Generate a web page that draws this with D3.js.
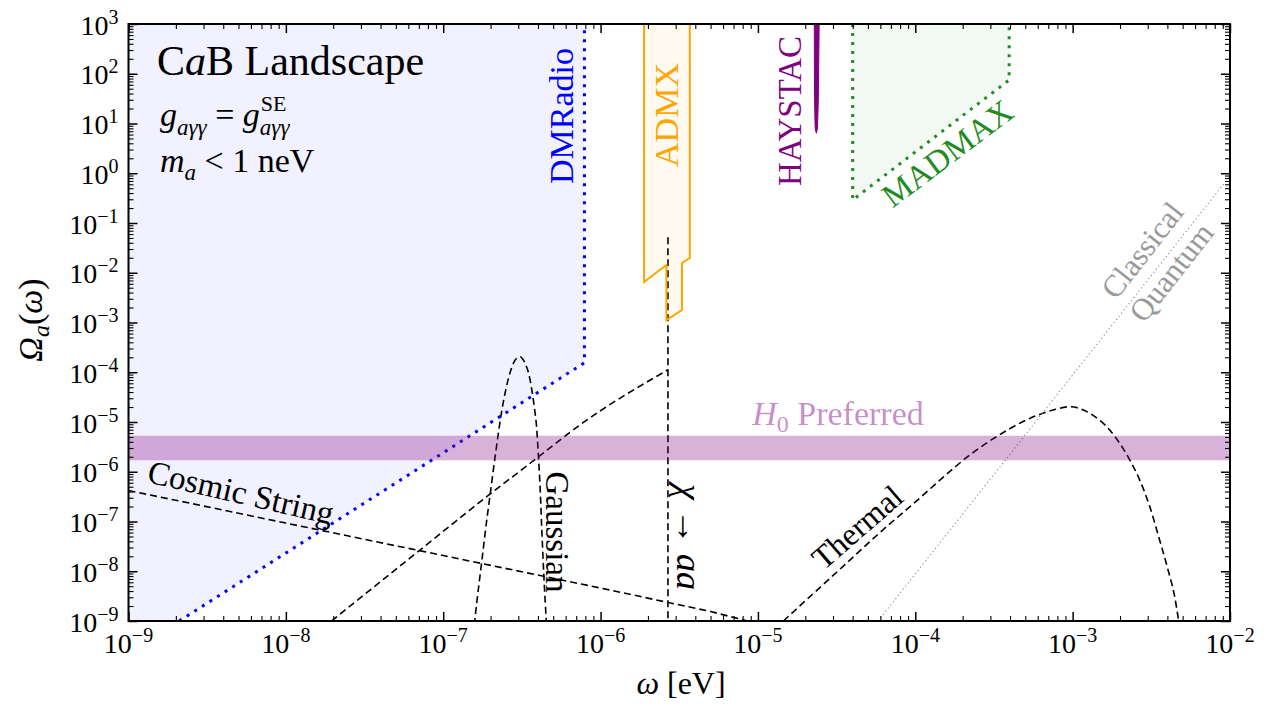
<!DOCTYPE html>
<html><head><meta charset="utf-8">
<script src="https://cdn.jsdelivr.net/npm/d3@7"></script>
<style>
body{margin:0;background:#fff}
svg text{font-family:"Liberation Serif","Times New Roman","DejaVu Serif",serif;fill:#000}
</style>
</head><body>
<svg id="c" width="1266" height="704" font-family="Liberation Serif, DejaVu Serif, serif"></svg>
<script>
// ---------------- data ----------------
const xTickExps = [-9,-8,-7,-6,-5,-4,-3,-2];
const yTickExps = [-9,-8,-7,-6,-5,-4,-3,-2,-1,0,1,2,3];
const xTickLabels = ["−9","−8","−7","−6","−5","−4","−3","−2"];
const yTickLabels = ["−9","−8","−7","−6","−5","−4","−3","−2","−1","0","1","2","3"];

const dmradioRegion = [[1e-9,1e3],[1e-9,1e-9],[2.1e-9,1e-9],[7.9e-7,1.55e-4],[7.9e-7,1e3]];
const dmradioEdge   = [[2.1e-9,1e-9],[7.9e-7,1.55e-4],[7.9e-7,1e3]];
const admxRegion = [[1.89e-6,1e3],[1.89e-6,6.5e-3],[2.62e-6,1.43e-2],[2.62e-6,1.12e-3],[3.29e-6,1.78e-3],[3.29e-6,1.57e-2],[3.69e-6,1.98e-2],[3.69e-6,1e3]];
const haystacRegion = [[2.28e-5,1e3],[2.29e-5,30],[2.31e-5,8],[2.35e-5,6.4],[2.39e-5,8],[2.42e-5,30],[2.45e-5,1e3]];
const madmaxRegion = [[4.0e-5,1e3],[4.0e-5,0.29],[3.95e-4,75],[3.95e-4,1e3]];
const h0Band = [1.7e-6, 5.3e-6];
const classicalQuantum = [[5.8e-5,1e-9],[1e-2,0.88]];

const cosmicString = [[1e-9,4.2e-7],[1e-8,9.3e-8],[1e-7,2.07e-8],[1e-6,4.6e-9],[5e-6,1.55e-9],[8.6e-6,1e-9]];
const gaussian = [[1.55e-7,5e-10],[1.6e-7,1.3e-9],[1.75e-7,1.4e-8],[1.9e-7,1.2e-7],[1.98e-7,3.2e-7],[2.15e-7,2.3e-6],
  [2.35e-7,1.6e-5],[2.5e-7,4.5e-5],[2.65e-7,9.5e-5],[2.8e-7,1.55e-4],[2.95e-7,1.95e-4],[3.07e-7,2.05e-4],
  [3.2e-7,1.85e-4],[3.35e-7,1.4e-4],[3.5e-7,9.2e-5],[3.65e-7,4.6e-5],[3.8e-7,1.9e-5],[3.92e-7,8.0e-6],
  [4.02e-7,2.3e-6],[4.12e-7,5.5e-7],[4.22e-7,8.5e-8],[4.35e-7,9.5e-9],[4.55e-7,7e-10]];
const decayRise = [[1.95e-8,1e-9],[7.11e-8,2.67e-8],[1.89e-7,3.15e-7],[3.92e-7,1.86e-6],[7.38e-7,8.7e-6],[2.68e-6,1.12e-4]];
const decayLine = [[2.68e-6,5.2e-2],[2.68e-6,1e-9]];
const thermal = [[1.45e-5,1e-9],[3.3e-5,1.08e-8],[6.56e-5,7.85e-8],[1.02e-4,2.6e-7],[1.5e-4,7.7e-7],[2.22e-4,2.17e-6],
  [3.28e-4,5.07e-6],[5.09e-4,1.10e-5],[7.51e-4,1.74e-5],[9.6e-4,2.03e-5],[1.284e-3,1.5e-5],[1.72e-3,6.9e-6],
  [1.99e-3,3.73e-6],[2.31e-3,1.72e-6],[2.67e-3,6.8e-7],[3.09e-3,2.0e-7],[3.57e-3,4.25e-8],[4.04e-3,1.06e-8],
  [4.45e-3,3.08e-9],[4.72e-3,1e-9]];

// ---------------- layout ----------------
const L=128.5, R=1230, T=24, B=621;
const FONT = '"Liberation Serif","Times New Roman","DejaVu Serif",serif';
const svg = d3.select("#c");
const x = d3.scaleLog().domain([1e-9,1e-2]).range([L,R]);
const y = d3.scaleLog().domain([1e-9,1e3]).range([B,T]);

svg.append("defs").append("clipPath").attr("id","clip")
  .append("rect").attr("x",L).attr("y",T).attr("width",R-L).attr("height",B-T);
const g = svg.append("g").attr("clip-path","url(#clip)");

const lin = d3.line().x(d=>x(d[0])).y(d=>y(d[1]));
const smooth = d3.line().x(d=>x(d[0])).y(d=>y(d[1])).curve(d3.curveMonotoneX);

// regions
g.append("path").attr("d",lin(dmradioRegion)+"Z").attr("fill","rgba(0,0,255,0.055)");
g.append("path").attr("d",lin(admxRegion)+"Z").attr("fill","rgba(255,165,0,0.06)");
g.append("path").attr("d",lin(madmaxRegion)+"Z").attr("fill","rgba(34,139,34,0.06)");

// theory curves
const dash = p => p.attr("fill","none").attr("stroke","#000").attr("stroke-width",1.6).attr("stroke-dasharray","7,4");
dash(g.append("path").attr("d",lin(cosmicString)));
dash(g.append("path").attr("d",smooth(gaussian)));
dash(g.append("path").attr("d",smooth(decayRise)));
dash(g.append("path").attr("d",lin(decayLine)));
dash(g.append("path").attr("d",smooth(thermal)));

g.append("path").attr("d",lin(classicalQuantum)).attr("fill","none")
  .attr("stroke","#8a8a8a").attr("stroke-width",1.1).attr("stroke-dasharray","1.2,2.8");

// experiment outlines
g.append("path").attr("d",lin(dmradioEdge)).attr("fill","none").attr("stroke","#0000ff")
  .attr("stroke-width",3).attr("stroke-dasharray","3,6");
g.append("path").attr("d",lin(admxRegion)).attr("fill","none").attr("stroke","#ffa500").attr("stroke-width",2);
g.append("path").attr("d",lin(madmaxRegion)).attr("fill","none").attr("stroke","#228b22")
  .attr("stroke-width",3).attr("stroke-dasharray","3,6");
g.append("path").attr("d",lin(haystacRegion)+"Z").attr("fill","#800080").attr("stroke","#800080").attr("stroke-width",1);

// H0 band (drawn over the curves, translucent)
g.append("rect").attr("x",L).attr("width",R-L)
  .attr("y",y(h0Band[1])).attr("height",y(h0Band[0])-y(h0Band[1]))
  .attr("fill","#800080").attr("fill-opacity",0.3);

// ---------------- axes ----------------
const pow10 = e => Math.pow(10,e);
const xMaj = xTickExps.map(pow10), yMaj = yTickExps.map(pow10);
const xMin = [], yMin = [];
xTickExps.slice(0,-1).forEach(e=>{ for(let k=2;k<10;k++) xMin.push(k*pow10(e)); });
yTickExps.slice(0,-1).forEach(e=>{ for(let k=2;k<10;k++) yMin.push(k*pow10(e)); });

function ax(axisFn, scale, vals, size, sw, tr){
  const a = axisFn(scale).tickValues(vals).tickSizeInner(-size).tickSizeOuter(0).tickFormat("");
  const gg = svg.append("g").attr("transform",tr).call(a);
  gg.select(".domain").remove();
  gg.selectAll("text").remove();
  gg.selectAll("line").attr("stroke","#000").attr("stroke-width",sw);
}
[[xMaj,9,1.5],[xMin,5,1.1]].forEach(([v,s,w])=>{
  ax(d3.axisBottom,x,v,s,w,`translate(0,${B})`);
  ax(d3.axisTop,x,v,s,w,`translate(0,${T})`);
});
[[yMaj,9,1.5],[yMin,5,1.1]].forEach(([v,s,w])=>{
  ax(d3.axisLeft,y,v,s,w,`translate(${L},0)`);
  ax(d3.axisRight,y,v,s,w,`translate(${R},0)`);
});
svg.append("rect").attr("x",L).attr("y",T).attr("width",R-L).attr("height",B-T)
  .attr("fill","none").attr("stroke","#000").attr("stroke-width",2);

function txt(sel){ return sel.append("text").attr("font-family",FONT).style("font-family",FONT); }

// tick labels
xMaj.forEach((v,i)=>{
  const t = txt(svg).attr("x",x(v)).attr("y",B+32).attr("text-anchor","middle").style("font-size","28px");
  t.append("tspan").text("10");
  t.append("tspan").text(xTickLabels[i]).attr("dy",-11).style("font-size","20px");
});
yMaj.forEach((v,i)=>{
  const t = txt(svg).attr("x",L-10).attr("y",y(v)+10.5).attr("text-anchor","end").style("font-size","28px");
  t.append("tspan").text("10");
  t.append("tspan").text(yTickLabels[i]).attr("dy",-11).style("font-size","20px");
});

// axis labels
{
  const t = txt(svg).attr("x",681).attr("y",694).attr("text-anchor","middle").style("font-size","32px");
  t.append("tspan").text("ω").style("font-style","italic");
  t.append("tspan").text(" [eV]");
}
{
  const t = txt(svg).attr("transform","translate(42,320) rotate(-90)").attr("text-anchor","middle").style("font-size","34px");
  t.append("tspan").text("Ω").style("font-style","italic");
  t.append("tspan").text("a").attr("dy",7).style("font-size","24px").style("font-style","italic");
  t.append("tspan").text("(").attr("dy",-7);
  t.append("tspan").text("ω").style("font-style","italic");
  t.append("tspan").text(")");
}

// ---------------- annotations ----------------
function rlabel(s, cx, cy, ang, size, color){
  return txt(svg).attr("transform",`translate(${cx},${cy}) rotate(${ang})`)
    .attr("text-anchor","middle").attr("dy","0.35em").style("font-size",size+"px").style("fill",color).text(s);
}
rlabel("DMRadio",561,116,-90,34,"#0000ff");
rlabel("ADMX",666,115,-90,34,"#ffa500");
rlabel("HAYSTAC",789,111,-90,33,"#800080");
rlabel("MADMAX",947,153,-37,33,"#228b22");
rlabel("Classical",1142,250,-52,31,"#999999");
rlabel("Quantum",1171,272,-52,31,"#999999");
rlabel("Thermal",857,527,-41,32,"#000");
rlabel("Gaussian",558,532,90,33,"#000");
rlabel("Cosmic String",241,492,13,33,"#000");
{
  const t = txt(svg).attr("transform","translate(690,537) rotate(90)")
    .attr("text-anchor","middle").attr("dy","0.35em").style("font-size","36px");
  t.append("tspan").text("χ").style("font-style","italic");
  t.append("tspan").text(" → ");
  t.append("tspan").text("aa").style("font-style","italic");
}
{
  const t = txt(svg).attr("x",838).attr("y",425).attr("text-anchor","middle")
    .style("font-size","34px").style("fill","#800080").style("fill-opacity",0.45);
  t.append("tspan").text("H").style("font-style","italic");
  t.append("tspan").text("0").attr("dy",7).style("font-size","24px");
  t.append("tspan").text(" Preferred").attr("dy",-7);
}
// top-left text block
{
  const t = txt(svg).attr("x",157).attr("y",75).style("font-size","42px");
  t.append("tspan").text("C");
  t.append("tspan").text("a").style("font-style","italic");
  t.append("tspan").text("B Landscape");
}
{
  const t = txt(svg).attr("x",160).attr("y",126).style("font-size","34px");
  t.append("tspan").text("g").style("font-style","italic");
  t.append("tspan").text("aγγ").attr("dy",9).style("font-size","23px").style("font-style","italic");
  t.append("tspan").text(" = ").attr("dy",-9);
  t.append("tspan").text("g").style("font-style","italic");
  const sub = t.append("tspan").text("aγγ").attr("dy",9).style("font-size","23px").style("font-style","italic");
  const w = sub.node().getComputedTextLength();
  t.append("tspan").text("SE").attr("dx",-w+1).attr("dy",-24).style("font-size","22px");
}
{
  const t = txt(svg).attr("x",160).attr("y",172).style("font-size","34px");
  t.append("tspan").text("m").style("font-style","italic");
  t.append("tspan").text("a").attr("dy",8).style("font-size","23px").style("font-style","italic");
  t.append("tspan").text(" < 1 neV").attr("dy",-8);
}
</script>
</body></html>
